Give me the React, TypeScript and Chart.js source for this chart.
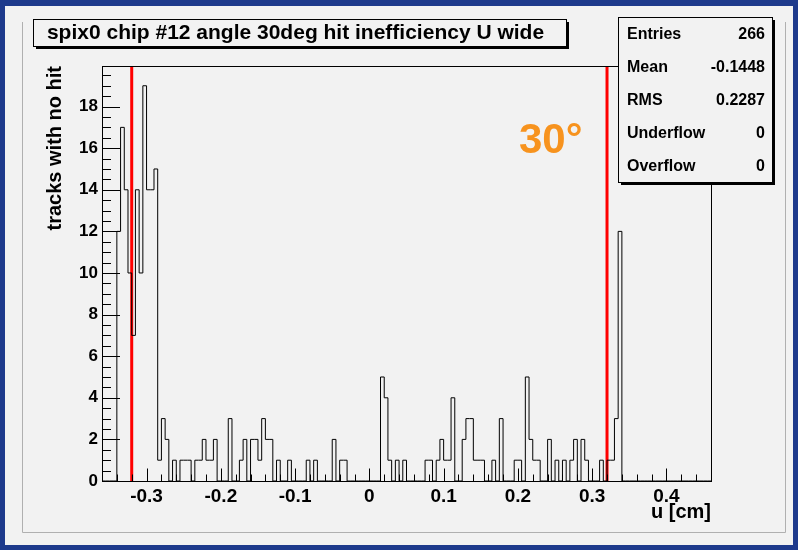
import React, { useEffect, useRef } from 'react';
import { Chart, registerables } from 'chart.js';

Chart.register(...registerables);

// ---- histogram definition (u [cm]) ----
const X_MIN = -0.36;
const X_MAX = 0.46;
const BIN_WIDTH = 0.005;
// counts per bin (164 bins from -0.36 to 0.46)
const binCounts = [
  0, 0, 0, 0, 12, 17, 14, 10, 7, 14, 10, 19, 14, 14, 15, 1, 3, 2, 0, 1,
  0, 1, 1, 1, 0, 1, 1, 2, 1, 1, 2, 0, 0, 0, 3, 0, 0, 1, 2, 0,
  2, 2, 1, 3, 2, 2, 0, 1, 0, 0, 1, 0, 0, 0, 0, 1, 0, 1, 0, 0,
  0, 0, 2, 0, 1, 1, 0, 0, 0, 0, 0, 0, 0, 0, 0, 5, 4, 1, 0, 1,
  0, 1, 0, 0, 0, 0, 0, 1, 1, 0, 1, 2, 1, 1, 4, 0, 0, 2, 3, 3,
  1, 1, 1, 0, 0, 1, 0, 3, 0, 0, 0, 1, 1, 0, 5, 2, 1, 1, 0, 0,
  2, 0, 1, 0, 1, 0, 1, 2, 0, 2, 1, 0, 0, 0, 1, 0, 1, 1, 3, 12,
  0, 0, 0, 0, 0, 0, 0, 0, 0, 0, 0, 0, 0, 0, 0, 0, 0, 0, 0, 0,
  0, 0, 0, 0,
];
const Y_MAX = 19.95;

const xTickValues = [-0.3, -0.2, -0.1, 0, 0.1, 0.2, 0.3, 0.4];
const xTickLabels = ['-0.3', '-0.2', '-0.1', '0', '0.1', '0.2', '0.3', '0.4'];
const X_MINOR_STEP = 0.02;
const yTickValues = [0, 2, 4, 6, 8, 10, 12, 14, 16, 18];
const Y_MINOR_STEP = 0.5;

const cutPositions = [-0.32, 0.32];

const titleText = 'spix0 chip #12 angle 30deg hit inefficiency U wide';
const xAxisTitle = 'u [cm]';
const yAxisTitle = 'tracks with no hit';
const angleLabel = '30\u00B0';
const statsLabels = ['Entries', 'Mean', 'RMS', 'Underflow', 'Overflow'];
const statsValues = ['266', '-0.1448', '0.2287', '0', '0'];

const FONT = '"Liberation Sans", Arial, Helvetica, sans-serif';
const NAVY = '#1e3a8c';
const PAD_BG = '#f2f2f2';

const decorPlugin = {
  id: 'rootDecor',
  beforeDraw(chart: any) {
    const { ctx, width, height } = chart;
    ctx.save();
    ctx.fillStyle = NAVY;
    ctx.fillRect(0, 0, width, height);
    ctx.fillStyle = PAD_BG;
    ctx.fillRect(5, 6, width - 10, height - 11);
    // pad bevel lines
    ctx.strokeStyle = '#b0b0b0';
    ctx.lineWidth = 1;
    ctx.beginPath();
    ctx.moveTo(22.5, 22);
    ctx.lineTo(22.5, 532.5);
    ctx.lineTo(785.5, 532.5);
    ctx.lineTo(785.5, 22);
    ctx.stroke();
    ctx.restore();
  },
  afterDraw(chart: any) {
    const { ctx, chartArea } = chart;
    const xs = chart.scales.x;
    const ys = chart.scales.y;
    const { left, right, top, bottom } = chartArea;
    ctx.save();
    // frame
    ctx.strokeStyle = '#000';
    ctx.lineWidth = 1;
    ctx.strokeRect(Math.round(left) + 0.5, Math.round(top) + 0.5, Math.round(right - left), Math.round(bottom - top));

    // x ticks (inward, from bottom)
    ctx.beginPath();
    for (let v = X_MIN; v <= X_MAX + 1e-9; v += X_MINOR_STEP) {
      const px = Math.round(xs.getPixelForValue(v)) + 0.5;
      ctx.moveTo(px, bottom);
      ctx.lineTo(px, bottom - 6.5);
    }
    xTickValues.forEach((v) => {
      const px = Math.round(xs.getPixelForValue(v)) + 0.5;
      ctx.moveTo(px, bottom);
      ctx.lineTo(px, bottom - 12.5);
    });
    // y ticks (inward, from left)
    for (let v = 0; v <= Y_MAX + 1e-9; v += Y_MINOR_STEP) {
      const py = Math.round(ys.getPixelForValue(v)) + 0.5;
      ctx.moveTo(left, py);
      ctx.lineTo(left + 9, py);
    }
    yTickValues.forEach((v) => {
      const py = Math.round(ys.getPixelForValue(v)) + 0.5;
      ctx.moveTo(left, py);
      ctx.lineTo(left + 18, py);
    });
    ctx.stroke();

    // axis titles
    ctx.fillStyle = '#000';
    ctx.font = `bold 20px ${FONT}`;
    ctx.textAlign = 'right';
    ctx.textBaseline = 'alphabetic';
    ctx.fillText(xAxisTitle, right, 518);
    ctx.save();
    ctx.translate(61, top);
    ctx.rotate(-Math.PI / 2);
    ctx.textAlign = 'right';
    ctx.fillText(yAxisTitle, 0, 0);
    ctx.restore();

    // 30° label
    ctx.fillStyle = '#f7931e';
    ctx.font = `bold 42px ${FONT}`;
    ctx.textAlign = 'left';
    ctx.fillText(angleLabel, 519, 153);

    // title box
    const tb = { x: 33, y: 19, w: 533, h: 27 };
    ctx.fillStyle = '#000';
    ctx.fillRect(tb.x + 3, tb.y + 3, tb.w, tb.h);
    ctx.fillStyle = PAD_BG;
    ctx.fillRect(tb.x, tb.y, tb.w, tb.h);
    ctx.strokeStyle = '#000';
    ctx.strokeRect(tb.x + 0.5, tb.y + 0.5, tb.w, tb.h);
    ctx.fillStyle = '#000';
    ctx.font = `bold 21px ${FONT}`;
    ctx.textAlign = 'center';
    ctx.textBaseline = 'middle';
    ctx.fillText(titleText, tb.x + tb.w / 2 - 4, tb.y + tb.h / 2 + 1);

    // stats box
    const sb = { x: 618, y: 17, w: 154, h: 165 };
    ctx.fillStyle = '#000';
    ctx.fillRect(sb.x + 3, sb.y + 3, sb.w, sb.h);
    ctx.fillStyle = PAD_BG;
    ctx.fillRect(sb.x, sb.y, sb.w, sb.h);
    ctx.strokeRect(sb.x + 0.5, sb.y + 0.5, sb.w, sb.h);
    ctx.fillStyle = '#000';
    ctx.font = `bold 16px ${FONT}`;
    ctx.textBaseline = 'middle';
    const rowH = sb.h / statsLabels.length;
    statsLabels.forEach((lab, i) => {
      const cy = sb.y + rowH * (i + 0.5) + 1;
      ctx.textAlign = 'left';
      ctx.fillText(lab, sb.x + 9, cy);
      ctx.textAlign = 'right';
      ctx.fillText(statsValues[i], sb.x + sb.w - 7, cy);
    });
    ctx.restore();
  },
};

export default function App() {
  const canvasRef = useRef<HTMLCanvasElement | null>(null);

  useEffect(() => {
    const canvas = canvasRef.current;
    if (!canvas) return;

    const histPoints = binCounts.map((c, k) => ({ x: X_MIN + k * BIN_WIDTH, y: c }));
    histPoints.push({ x: X_MAX, y: binCounts[binCounts.length - 1] });

    const cutDatasets = cutPositions.map((p) => ({
      label: `cut ${p}`,
      data: [
        { x: p, y: 0 },
        { x: p, y: Y_MAX },
      ],
      borderColor: '#ff0000',
      borderWidth: 3,
      pointRadius: 0,
      fill: false,
    }));

    const chart = new Chart(canvas, {
      type: 'line',
      data: {
        datasets: [
          {
            label: 'hist',
            data: histPoints,
            stepped: 'before',
            borderColor: '#000',
            borderWidth: 1,
            pointRadius: 0,
            fill: false,
          },
          ...cutDatasets,
        ],
      },
      options: {
        responsive: false,
        animation: false,
        events: [],
        layout: { padding: { left: 0, top: 66, right: 87, bottom: 0 } },
        plugins: { legend: { display: false }, tooltip: { enabled: false }, title: { display: false } },
        scales: {
          x: {
            type: 'linear',
            min: X_MIN,
            max: X_MAX,
            grid: { display: false, drawTicks: false },
            border: { display: false },
            afterBuildTicks: (scale: any) => {
              scale.ticks = xTickValues.map((v) => ({ value: v }));
            },
            afterFit: (scale: any) => {
              scale.height = 69;
            },
            ticks: {
              autoSkip: false,
              maxRotation: 0,
              padding: 4,
              color: '#000',
              font: { family: FONT, size: 19, weight: 'bold' },
              callback: (_v: any, i: number) => xTickLabels[i],
            },
          },
          y: {
            type: 'linear',
            min: 0,
            max: Y_MAX,
            grid: { display: false, drawTicks: false },
            border: { display: false },
            afterBuildTicks: (scale: any) => {
              scale.ticks = yTickValues.map((v) => ({ value: v }));
            },
            afterFit: (scale: any) => {
              scale.width = 102;
            },
            ticks: {
              autoSkip: false,
              padding: 4,
              color: '#000',
              font: { family: FONT, size: 17, weight: 'bold' },
              callback: (v: any) => String(v),
            },
          },
        },
      },
      plugins: [decorPlugin],
    });

    return () => chart.destroy();
  }, []);

  return (
    <div style={{ position: 'fixed', left: 0, top: 0, width: 798, height: 550 }}>
      <canvas ref={canvasRef} width={798} height={550} style={{ width: 798, height: 550, display: 'block' }} />
    </div>
  );
}
